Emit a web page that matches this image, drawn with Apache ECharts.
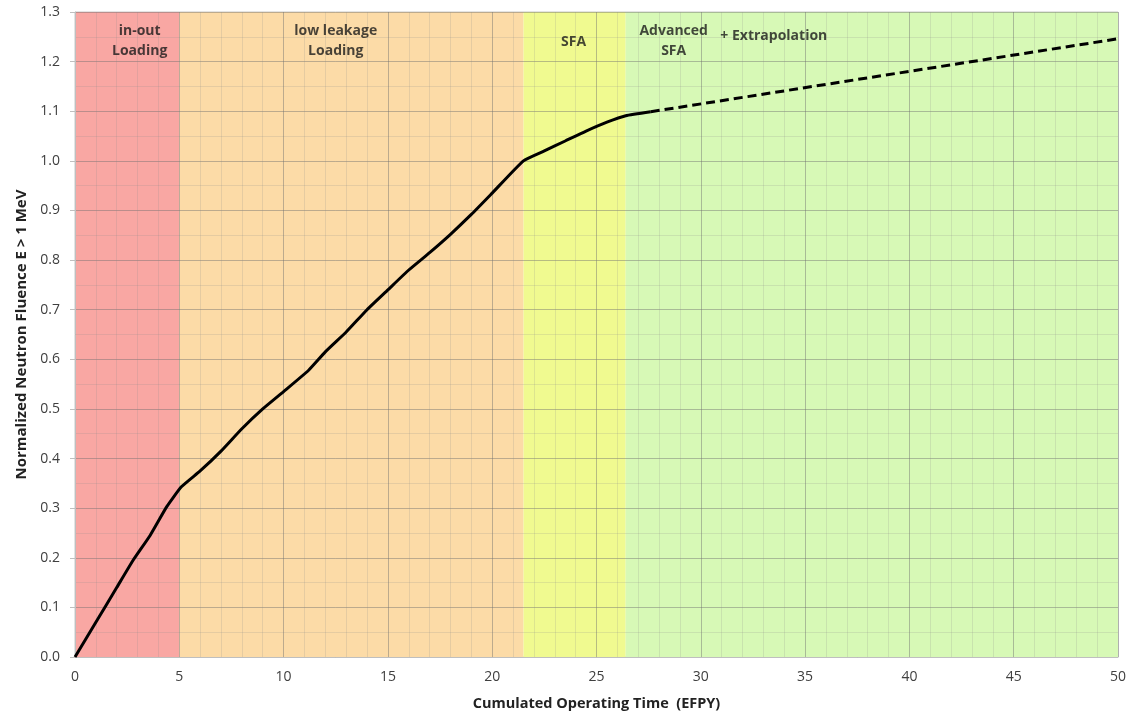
<!DOCTYPE html>
<html><head><meta charset="utf-8">
<script src="https://cdn.jsdelivr.net/npm/echarts@6/dist/echarts.min.js"></script>
<style>html,body{margin:0;padding:0;background:#fff}#c{width:1128px;height:714px}</style>
</head><body><div id="c"></div>
<script>
// Measured (solid) curve
const measuredX = [0, 1, 2, 2.8, 3.6, 4.4, 5.1, 6, 7, 8, 9, 10, 11.2, 12, 13, 14, 15, 16, 17, 18, 19, 20, 21.5, 22.5, 23.5, 24.5, 25.5, 26.4, 27.6];
const measuredY = [0, 0.07, 0.14, 0.196, 0.245, 0.303, 0.343, 0.375, 0.415, 0.46, 0.5, 0.535, 0.578, 0.615, 0.655, 0.70, 0.74, 0.78, 0.815, 0.852, 0.892, 0.935, 1.0, 1.02, 1.04, 1.06, 1.078, 1.091, 1.099];
// Extrapolation (dashed)
const extrapX = [27.6, 50];
const extrapY = [1.099, 1.246];
// Loading-scheme regions
const regionStart = [0, 5, 21.5, 26.4];
const regionEnd = [5, 21.5, 26.4, 50];
// Region annotations
const noteText = ['in-out\nLoading', 'low leakage\nLoading', 'SFA', 'Advanced\nSFA', '+ Extrapolation'];
const noteX = [3.1, 12.5, 23.9, 28.7, 33.5];
const noteY = [1.242, 1.242, 1.24, 1.242, 1.252];
const xTicks = [0, 5, 10, 15, 20, 25, 30, 35, 40, 45, 50];
const yTicks = [0, 0.1, 0.2, 0.3, 0.4, 0.5, 0.6, 0.7, 0.8, 0.9, 1.0, 1.1, 1.2, 1.3];

const regionColors = ['#F9A7A3', '#FCDBA7', '#F0FA90', '#D7F9B6'];
const FONT = '"Open Sans", "Noto Sans", sans-serif';

const chart = echarts.init(document.getElementById('c'), null, {renderer: 'canvas'});
chart.setOption({
  animation: false,
  backgroundColor: '#fff',
  grid: {left: 75, right: 10, top: 12, bottom: 57, outerBoundsMode: 'none', containLabel: false,
         show: true, borderColor: '#c8c8c8', borderWidth: 1},
  xAxis: {
    type: 'value', min: xTicks[0], max: xTicks[xTicks.length - 1], interval: 5, z: 3,
    name: 'Cumulated Operating Time  (EFPY)', nameLocation: 'middle', nameGap: 39,
    nameTextStyle: {fontFamily: FONT, fontWeight: 'bold', fontSize: 14.5, color: '#222'},
    axisLine: {show: true, lineStyle: {color: '#bfbfbf'}},
    axisTick: {show: false},
    axisLabel: {fontFamily: FONT, fontSize: 14, color: '#404040', margin: 13},
    splitLine: {show: true, lineStyle: {color: 'rgba(110,110,110,0.45)', width: 1}},
    minorTick: {show: false, splitNumber: 5},
    minorSplitLine: {show: true, lineStyle: {color: 'rgba(140,140,140,0.2)', width: 1}}
  },
  yAxis: {
    type: 'value', min: yTicks[0], max: yTicks[yTicks.length - 1], interval: 0.1, z: 3,
    name: 'Normalized Neutron Fluence E > 1 MeV', nameLocation: 'middle', nameGap: 36,
    nameTextStyle: {fontFamily: FONT, fontWeight: 'bold', fontSize: 15, color: '#222'},
    axisLine: {show: true, lineStyle: {color: '#bfbfbf'}},
    axisTick: {show: true, length: 5, lineStyle: {color: '#bfbfbf'}},
    axisLabel: {fontFamily: FONT, fontSize: 14, color: '#404040', margin: 15, formatter: v => v.toFixed(1)},
    splitLine: {show: true, lineStyle: {color: 'rgba(110,110,110,0.45)', width: 1}},
    minorTick: {show: false, splitNumber: 2},
    minorSplitLine: {show: true, lineStyle: {color: 'rgba(140,140,140,0.2)', width: 1}}
  },
  series: [
    {
      type: 'line', silent: true, symbol: 'none', data: [], z: 1,
      markArea: {
        silent: true, z: 1,
        data: regionStart.map((s, i) => [
          {xAxis: s, yAxis: yTicks[0], itemStyle: {color: regionColors[i], opacity: 1}},
          {xAxis: regionEnd[i], yAxis: yTicks[yTicks.length - 1]}
        ])
      }
    },
    {
      type: 'line', symbol: 'none', smooth: 0.15, z: 5,
      data: measuredX.map((x, i) => [x, measuredY[i]]),
      lineStyle: {color: '#000', width: 3}
    },
    {
      type: 'line', symbol: 'none', z: 5,
      data: extrapX.map((x, i) => [x, extrapY[i]]),
      lineStyle: {color: '#000', width: 3, type: [9, 5]}
    },
    {
      type: 'scatter', symbolSize: 0, z: 6, silent: true,
      data: noteX.map((x, i) => ({value: [x, noteY[i]], name: noteText[i]})),
      label: {show: true, position: 'inside', formatter: p => p.name,
        fontFamily: FONT, fontWeight: 'bold', fontSize: 14, color: '#1a1a1a', lineHeight: 20, align: 'center'}
    }
  ]
});
</script></body></html>
